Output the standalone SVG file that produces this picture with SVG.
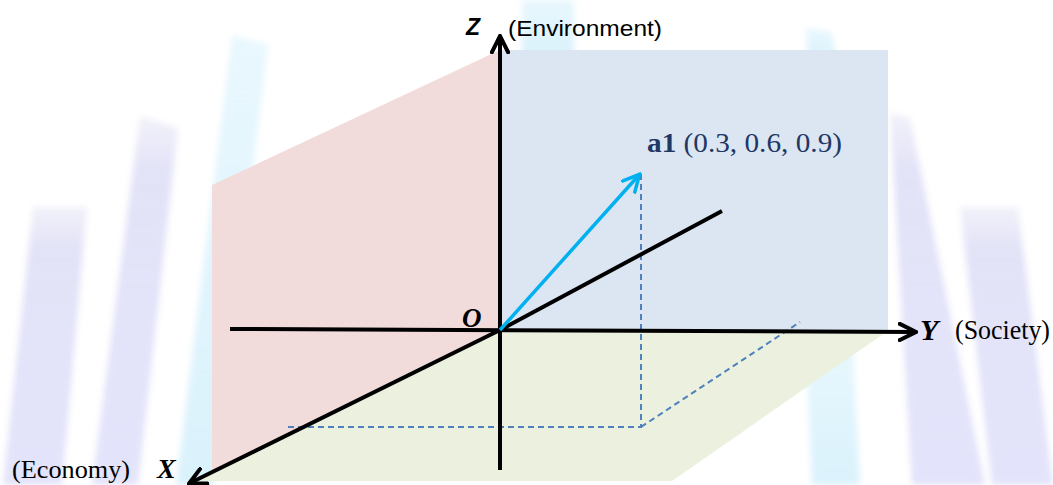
<svg xmlns="http://www.w3.org/2000/svg" width="1053" height="485" viewBox="0 0 1053 485">
  <style>
    .serif { font-family: "Liberation Serif", "Times New Roman", serif; }
    .sans { font-family: "Liberation Sans", Arial, sans-serif; }
    .axis { stroke: #000; stroke-width: 4; fill: none; }
    .dash { stroke: #4f81bd; stroke-width: 2; stroke-dasharray: 6 4; fill: none; }
    .navy { fill: #1f3864; }
  </style>
  <defs>
    <filter id="soft" x="-20%" y="-20%" width="140%" height="140%">
      <feGaussianBlur stdDeviation="3"/>
    </filter>
    <linearGradient id="lav" x1="0" y1="0" x2="0" y2="1">
      <stop offset="0" stop-color="#dcdcf2" stop-opacity="0.4"/>
      <stop offset="0.15" stop-color="#dcdcf6" stop-opacity="0.8"/>
      <stop offset="1" stop-color="#dedefa" stop-opacity="0.85"/>
    </linearGradient>
    <linearGradient id="cyan" x1="0" y1="0" x2="0" y2="1">
      <stop offset="0" stop-color="#d2f0fc" stop-opacity="0.5"/>
      <stop offset="1" stop-color="#d0eefb" stop-opacity="0.8"/>
    </linearGradient>
    <marker id="arrowBlack" viewBox="0 0 20 20" refX="17" refY="10" markerWidth="20" markerHeight="20" markerUnits="userSpaceOnUse" orient="auto">
      <path d="M0,1 L18,10 L0,19" fill="none" stroke="#000" stroke-width="4"/>
    </marker>
    <marker id="arrowBlue" viewBox="0 0 20 20" refX="17" refY="10" markerWidth="20" markerHeight="20" markerUnits="userSpaceOnUse" orient="auto">
      <path d="M0,1 L18,10 L0,19" fill="none" stroke="#00b0f0" stroke-width="3.5"/>
    </marker>
  </defs>

  <rect width="1053" height="485" fill="#ffffff"/>

  <g id="background" filter="url(#soft)">
    <polygon points="33,207 87,207 62,485 3,485" fill="url(#lav)"/>
    <polygon points="140,116 178,128 138,485 92,485" fill="url(#lav)"/>
    <polygon points="232,35 268,45 214,485 176,485" fill="url(#cyan)"/>
    <rect x="522" y="0" width="52" height="55" fill="url(#cyan)"/>
    <polygon points="806,28 832,32 836,60 808,60" fill="url(#cyan)"/>
    <polygon points="805,330 852,330 860,485 812,485" fill="url(#cyan)"/>
    <polygon points="890,113 910,118 985,485 912,485" fill="url(#lav)"/>
    <polygon points="960,207 1018,207 1053,485 992,485" fill="url(#lav)"/>
  </g>

  <g id="plane-xz">
    <polygon points="212,185 500,50 500,481 212,481" fill="#f2dcdb"/>
  </g>
  <g id="plane-yz">
    <rect x="500" y="50" width="388" height="280" fill="#dce6f2"/>
  </g>
  <g id="plane-xy">
    <polygon points="500,330 889,330 672,481 197,481" fill="#ebf1de"/>
  </g>

  <g id="connectors">
    <polyline class="dash" points="641,174 641,427 288,427"/>
    <line class="dash" x1="641" y1="427" x2="800" y2="322"/>
    <line class="axis" x1="500" y1="470" x2="500" y2="37" marker-end="url(#arrowBlack)"/>
    <line class="axis" x1="230" y1="329" x2="915" y2="332" marker-end="url(#arrowBlack)"/>
    <polyline class="axis" points="722,211 500,330 190,483" marker-end="url(#arrowBlack)"/>
    <line x1="500" y1="330" x2="639" y2="175" stroke="#00b0f0" stroke-width="3.5" marker-end="url(#arrowBlue)"/>
  </g>

  <g id="label-z">
    <text class="sans" x="466" y="35" font-size="23" font-weight="bold" font-style="italic">Z</text>
    <text class="sans" x="508" y="36" font-size="22" textLength="154" lengthAdjust="spacingAndGlyphs">(Environment)</text>
  </g>
  <g id="label-a1">
    <text class="serif navy" x="647" y="152" font-size="27" textLength="195" lengthAdjust="spacingAndGlyphs"><tspan font-weight="bold">a1</tspan> (0.3, 0.6, 0.9)</text>
  </g>
  <g id="label-o">
    <text class="serif" x="462" y="327" font-size="27" font-weight="bold" font-style="italic">O</text>
  </g>
  <g id="label-y">
    <text class="serif" x="920" y="340" font-size="30" font-weight="bold" font-style="italic">Y</text>
    <text class="serif" x="955" y="339" font-size="27" textLength="95" lengthAdjust="spacingAndGlyphs">(Society)</text>
  </g>
  <g id="label-x">
    <text class="serif" x="12" y="478" font-size="26" textLength="118" lengthAdjust="spacingAndGlyphs">(Economy)</text>
    <text class="serif" x="157" y="478" font-size="28" font-weight="bold" font-style="italic">X</text>
  </g>
</svg>
